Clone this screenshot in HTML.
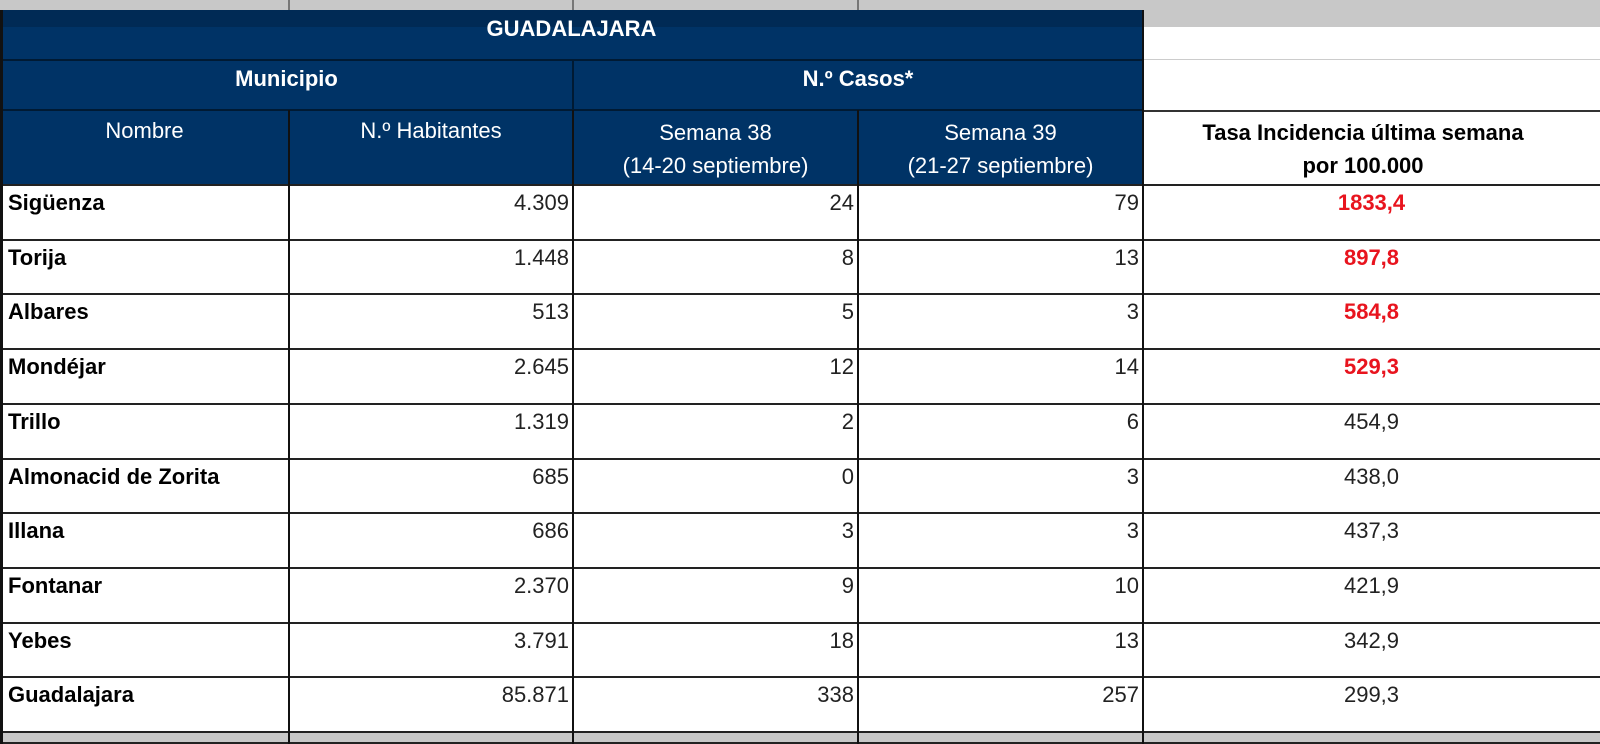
<!DOCTYPE html>
<html><head><meta charset="utf-8"><style>
body{margin:0;width:1600px;height:744px;overflow:hidden;background:#fff;font-family:"Liberation Sans",Arial,sans-serif;position:relative}
.a{position:absolute;box-sizing:border-box}
.t{position:absolute;font-size:22px;line-height:26px;white-space:nowrap;z-index:5}
.hl{position:absolute;height:2px;background:#222;left:0;width:1600px;z-index:2}
</style></head><body>
<div class="a" style="left:0;top:0;width:1600px;height:10px;background:#c8c8c8"></div>
<div class="a" style="left:1143px;top:10px;width:457px;height:17px;background:#c8c8c8"></div>
<div class="a" style="left:0;top:10px;width:1143px;height:175px;background:#003366"></div>
<div class="a" style="left:0;top:10px;width:1143px;height:17px;background:#002a55"></div>
<div class="t" style="left:0;width:1143px;top:16px;text-align:center;color:#fff;font-weight:bold">GUADALAJARA</div>
<div class="t" style="left:0;width:573px;top:66px;text-align:center;color:#fff;font-weight:bold">Municipio</div>
<div class="t" style="left:573px;width:570px;top:66px;text-align:center;color:#fff;font-weight:bold">N.º Casos*</div>
<div class="t" style="left:0;width:289px;top:118px;text-align:center;color:#fff">Nombre</div>
<div class="t" style="left:289px;width:284px;top:118px;text-align:center;color:#fff">N.º Habitantes</div>
<div class="t" style="left:573px;width:285px;top:116px;text-align:center;color:#fff;line-height:33px">Semana 38<br>(14-20 septiembre)</div>
<div class="t" style="left:858px;width:285px;top:116px;text-align:center;color:#fff;line-height:33px">Semana 39<br>(21-27 septiembre)</div>
<div class="t" style="left:1143px;width:440px;top:116px;text-align:center;color:#000;font-weight:bold;line-height:33px">Tasa Incidencia última semana<br>por 100.000</div>
<div class="hl" style="top:59px;width:1143px;background:#001a33"></div>
<div class="hl" style="top:59px;left:1143px;width:457px;height:1px;background:#ccc"></div>
<div class="hl" style="top:109px;width:1143px;background:#001a33"></div>
<div class="hl" style="top:110px;left:1143px;width:457px;background:#333"></div>
<div class="a" style="left:0;top:732px;width:1600px;height:12px;background:#c8c8c8"></div>
<div class="a" style="left:0;top:742px;width:1600px;height:2px;background:#222"></div>
<div class="a" style="left:0;top:10px;width:3px;height:734px;background:#111;z-index:3"></div>
<!-- vertical line segments -->
<div class="a" style="left:288px;top:0;width:2px;height:10px;background:#777"></div>
<div class="a" style="left:572px;top:0;width:2px;height:10px;background:#777"></div>
<div class="a" style="left:857px;top:0;width:2px;height:10px;background:#777"></div>
<div class="a" style="left:572px;top:60px;width:2px;height:50px;background:#001a33;z-index:3"></div>
<div class="a" style="left:288px;top:110px;width:2px;height:634px;background:#111;z-index:3"></div>
<div class="a" style="left:572px;top:110px;width:2px;height:634px;background:#111;z-index:3"></div>
<div class="a" style="left:857px;top:110px;width:2px;height:634px;background:#111;z-index:3"></div>
<div class="a" style="left:1142px;top:10px;width:2px;height:734px;background:#111;z-index:3"></div>
<div id="tb"></div>
<script>
const names=["Sigüenza","Torija","Albares","Mondéjar","Trillo","Almonacid de Zorita","Illana","Fontanar","Yebes","Guadalajara"];
const habitantes=["4.309","1.448","513","2.645","1.319","685","686","2.370","3.791","85.871"];
const sem38=["24","8","5","12","2","0","3","9","18","338"];
const sem39=["79","13","3","14","6","3","3","10","13","257"];
const tasa=["1833,4","897,8","584,8","529,3","454,9","438,0","437,3","421,9","342,9","299,3"];
const highlight=[true,true,true,true,false,false,false,false,false,false];
const tb=document.getElementById('tb');
const top0=185,rh=54.7;
for(let i=0;i<names.length;i++){
 const y=top0+i*rh;
 const h=document.createElement('div');h.className='hl';h.style.top=(y-1)+'px';tb.appendChild(h);
 const row=document.createElement('div');
 
 
 tb.appendChild(row);
 const cells=[[names[i],8,281,'left',true,'#000'],[habitantes[i],289,280,'right',false,'#222'],[sem38[i],573,281,'right',false,'#222'],[sem39[i],858,281,'right',false,'#222'],[tasa[i],1143,457,'center',highlight[i],highlight[i]?'#e8141e':'#222']];
 cells.forEach((c,j)=>{
  const d=document.createElement('div');d.className='t';
  
  
  d.textContent=c[0];
  d.style.left=c[1]+'px';d.style.width=c[2]+'px';d.style.top=(y+5)+'px';
  d.style.textAlign=c[3];d.style.fontWeight=c[4]?'bold':'normal';d.style.color=c[5];
  tb.appendChild(d);
 });
}
const h=document.createElement('div');h.className='hl';h.style.top=(top0+names.length*rh-1)+'px';tb.appendChild(h);
</script>
</body></html>
